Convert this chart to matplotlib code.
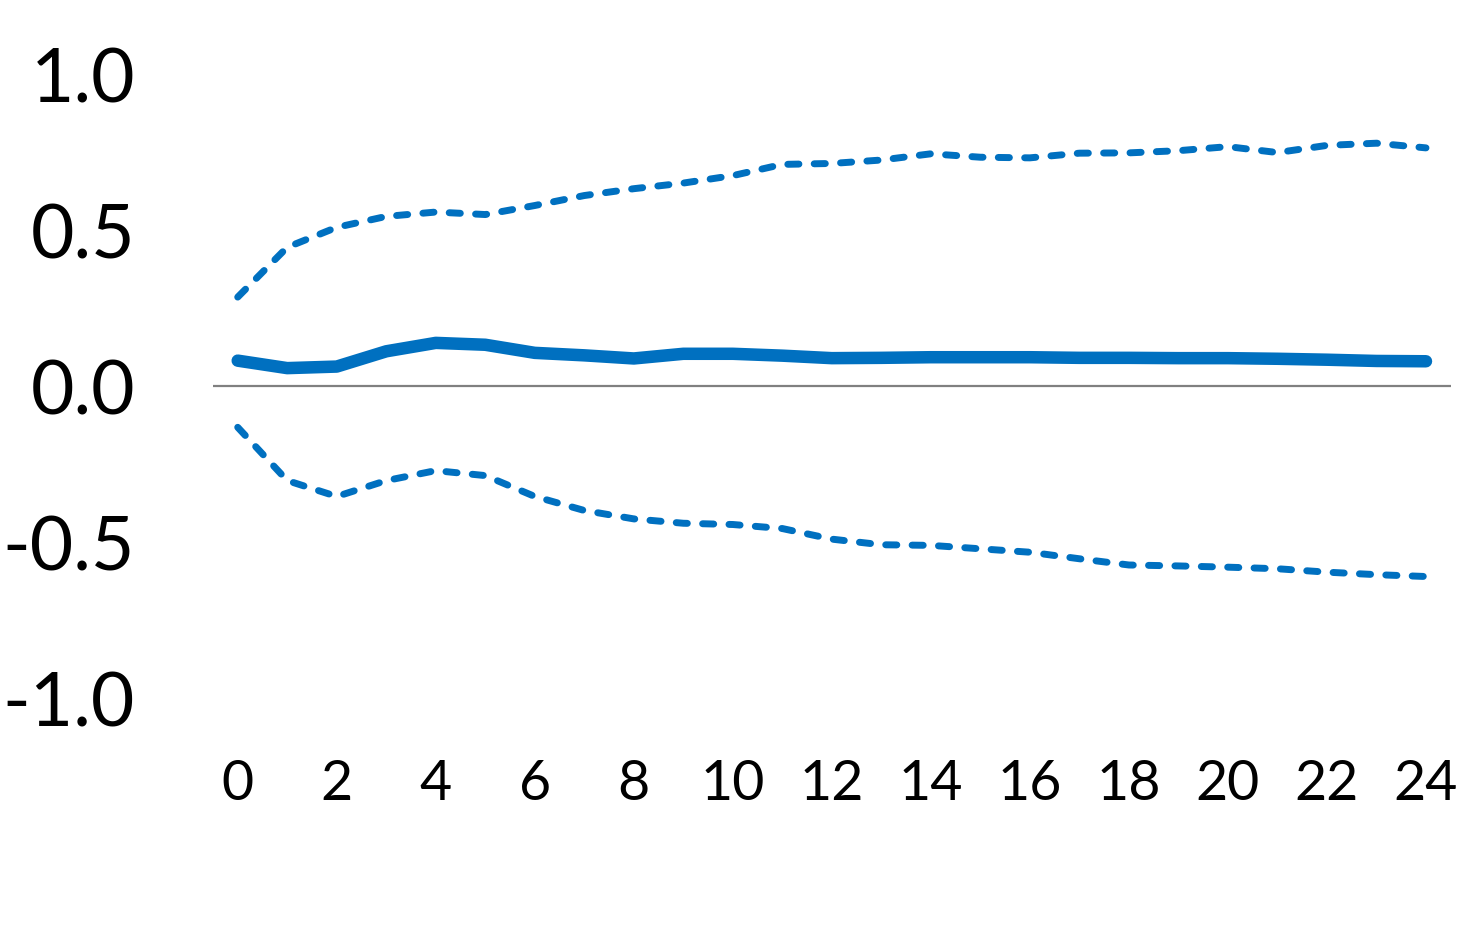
import numpy as np
import matplotlib.pyplot as plt

# horizon (months) and the impulse response with its bands
months = list(range(25))
response = [0.083, 0.059, 0.064, 0.113, 0.140, 0.134, 0.108, 0.100, 0.090, 0.105,
            0.105, 0.099, 0.091, 0.092, 0.094, 0.094, 0.094, 0.092, 0.092, 0.091,
            0.091, 0.089, 0.086, 0.082, 0.081]
upper = [0.287, 0.447, 0.511, 0.546, 0.560, 0.552, 0.581, 0.613, 0.635, 0.653,
         0.677, 0.713, 0.716, 0.727, 0.747, 0.736, 0.734, 0.749, 0.750, 0.757,
         0.770, 0.751, 0.774, 0.781, 0.766]
lower = [-0.131, -0.302, -0.353, -0.302, -0.270, -0.286, -0.353, -0.398, -0.425, -0.439,
         -0.443, -0.456, -0.490, -0.508, -0.510, -0.521, -0.532, -0.553, -0.573, -0.576,
         -0.580, -0.585, -0.596, -0.604, -0.610]
yticks = [-1.0, -0.5, 0.0, 0.5, 1.0]
xticks = list(range(0, 25, 2))

blue = '#0070C0'
plt.rcParams['font.family'] = ['Lato', 'DejaVu Sans']

fig = plt.figure(figsize=(14.82, 9.48), dpi=100)
ax = fig.add_axes([0.1437, 0.2637, 0.8352, 0.6572])

ax.axhline(0, color='#808080', lw=1.6, zorder=1)
ax.plot(months, response, color=blue, lw=9, solid_capstyle='round', zorder=3)
for band in (upper, lower):
    ax.plot(months, band, color=blue, lw=5, dashes=(1.6, 2.2),
            dash_capstyle='round', zorder=2)

ax.set_xlim(-0.5, 24.5)
ax.set_ylim(-1.0, 1.0)
ax.set_yticks(yticks)
ax.set_yticklabels([f'{v:.1f}' for v in yticks])
ax.set_xticks(xticks)
ax.set_xticklabels([str(v) for v in xticks])

for s in ax.spines.values():
    s.set_visible(False)
ax.tick_params(axis='y', length=0, pad=56, labelsize=54)
ax.tick_params(axis='x', length=0, pad=44, labelsize=40)

fig.savefig('out.png', dpi=100)
